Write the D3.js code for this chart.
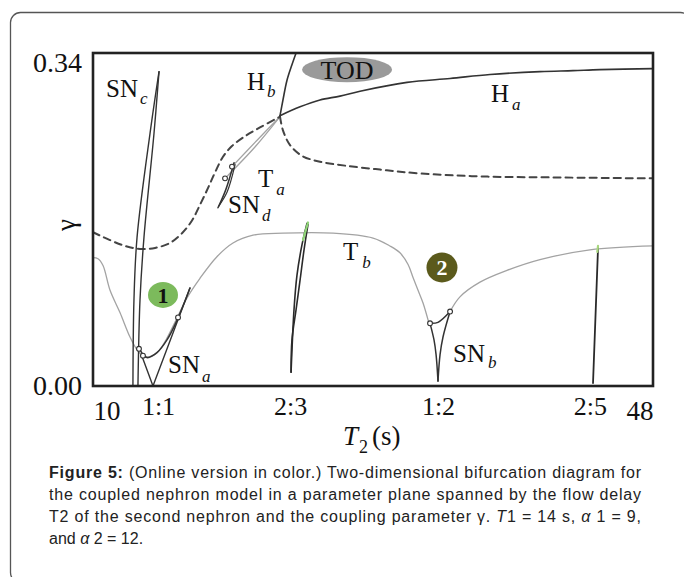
<!DOCTYPE html>
<html><head><meta charset="utf-8">
<script src="https://cdn.jsdelivr.net/npm/d3@7"></script>
<style>
html,body{margin:0;padding:0;background:#fff;}
svg{display:block;}
</style></head>
<body>
<script>
// ---- data (T2 in s, gamma) ----
const xTickValues = [14.41, 23.37, 33.41, 43.72];
const xTickLabels = ["1:1", "2:3", "1:2", "2:5"];
const xEndValues = [10, 48];
const yTickValues = [0, 0.34];

const hopfA = [[22.69,0.276],[24.05,0.285],[25.40,0.292],[26.76,0.296],[28.12,0.301],[31.31,0.310],[34.23,0.314],[36.94,0.318],[40.33,0.321],[42.57,0.322],[44.40,0.323],[48.00,0.324]];
const hopfB = [[22.69,0.276],[22.89,0.292],[23.16,0.312],[23.50,0.328],[23.78,0.340]];
const hopfDashRight = [[22.69,0.275],[22.89,0.261],[23.37,0.246],[24.18,0.235],[25.40,0.229],[27.10,0.225],[29.48,0.221],[32.19,0.217],[36.26,0.214],[41.01,0.213],[48.00,0.212]];
const hopfDashLeft = [[10.00,0.157],[11.15,0.149],[12.17,0.143],[13.19,0.140],[14.21,0.141],[15.22,0.146],[16.04,0.156],[16.72,0.169],[17.26,0.185],[17.80,0.202],[18.28,0.218],[18.82,0.234],[19.43,0.245],[20.31,0.255],[21.33,0.264],[22.69,0.275]];
const torusA1 = [[22.69,0.275],[21.20,0.252],[19.43,0.224]];
const torusA2 = [[22.69,0.275],[20.99,0.244],[18.96,0.212]];
const snD1 = [[19.57,0.228],[19.00,0.200],[18.48,0.182]];
const snD2 = [[19.64,0.226],[19.10,0.198],[18.55,0.184]];
const snC1 = [[14.48,0.321],[13.87,0.258],[12.99,0.152],[12.78,0.088],[12.71,0.000]];
const snC2 = [[14.48,0.321],[14.14,0.258],[13.46,0.152],[13.19,0.088],[13.05,0.000]];
const torusBLeft = [[10.00,0.131],[10.34,0.130],[10.68,0.123],[11.15,0.098],[11.83,0.075],[12.51,0.050],[12.99,0.037],[13.39,0.031],[13.87,0.030],[14.41,0.035],[14.95,0.047],[15.56,0.065],[16.38,0.090],[17.26,0.110],[18.41,0.132],[19.50,0.146],[20.86,0.154],[22.89,0.156],[26.29,0.156],[29.00,0.151],[30.15,0.143],[30.83,0.136],[31.38,0.124],[31.71,0.111],[32.05,0.098],[32.39,0.085],[32.80,0.064]];
const torusBRight = [[34.23,0.076],[34.90,0.091],[36.26,0.106],[38.09,0.118],[40.33,0.129],[43.72,0.139],[48.00,0.143]];
const snA1 = [[13.19,0.037],[13.66,0.029],[14.34,0.034],[15.02,0.047],[15.70,0.067],[16.58,0.100]];
const snA2 = [[13.33,0.030],[14.07,0.000],[16.58,0.100]];
const snB1 = [[32.87,0.064],[33.41,0.065],[34.23,0.076]];
const snB2 = [[32.87,0.064],[33.14,0.047],[33.28,0.032],[33.41,0.005]];
const snB3 = [[34.23,0.076],[33.75,0.050],[33.55,0.032],[33.41,0.005]];
const res23a = [[24.52,0.166],[24.18,0.144],[23.84,0.113],[23.64,0.078],[23.44,0.014]];
const res23b = [[24.59,0.165],[24.32,0.139],[24.05,0.108],[23.78,0.078],[23.50,0.047],[23.44,0.014]];
const res23tip = [[24.59,0.167],[24.25,0.149]];
const res25 = [[44.27,0.141],[43.93,0.003]];
const res25tip = [[44.27,0.143],[44.22,0.137]];
const markers = [[19.43,0.224],[18.96,0.212],[13.12,0.038],[13.39,0.031],[15.77,0.070],[32.87,0.064],[34.23,0.076]];
const todCenter = [27.24, 0.323];
const region1 = [14.75, 0.093];
const region2 = [33.68, 0.121];

const captionLines = [
  {bold:"Figure 5:", text:" (Online version in color.) Two-dimensional bifurcation diagram for", justify:true},
  {text:"the coupled nephron model in a parameter plane spanned by the flow delay", justify:true},
  {text:"T2 of the second nephron and the coupling parameter \u03b3. ", ital:"T", rest:"1 = 14 s, ", al:"\u03b1", rest2:" 1 = 9,", justify:true},
  {text:"and ", al:"\u03b1", rest2:" 2 = 12.", justify:false}
];

// ---- drawing ----
const W = 684, H = 577;
const svg = d3.select("body").append("svg").attr("width", W).attr("height", H);

svg.append("rect").attr("x",10.5).attr("y",12.5).attr("width",680).attr("height",570)
  .attr("rx",10).attr("fill","none").attr("stroke","#555").attr("stroke-width",1.3);

const L = 93, R = 653, T = 53, B = 386;
const x = d3.scaleLinear().domain([10,48]).range([L,R]);
const y = d3.scaleLinear().domain([0,0.34]).range([B,T]);

const line = d3.line().x(d=>x(d[0])).y(d=>y(d[1])).curve(d3.curveCatmullRom.alpha(0.5));
const lineS = d3.line().x(d=>x(d[0])).y(d=>y(d[1]));

const g = svg.append("g");
function path(data, color, w, dash, gen){
  g.append("path").attr("d",(gen||line)(data)).attr("fill","none")
   .attr("stroke",color).attr("stroke-width",w).attr("stroke-dasharray",dash||null)
   .attr("stroke-linejoin","round").attr("stroke-linecap","round");
}

// TOD ellipse
g.append("ellipse").attr("cx",x(todCenter[0])).attr("cy",y(todCenter[1]))
  .attr("rx",45).attr("ry",12.5).attr("fill","#9a9a9a");
g.append("text").attr("x",x(todCenter[0])).attr("y",y(todCenter[1])+9)
  .attr("text-anchor","middle").attr("font-family","Liberation Serif").attr("font-size",26)
  .attr("fill","#111").text("TOD");

// gray torus curves
path(torusBLeft, "#a3a3a3", 1.3);
path(torusBRight, "#a3a3a3", 1.3);
path(torusA1, "#a3a3a3", 1.3);
path(torusA2, "#a3a3a3", 1.3);

// dashed Hopf
path(hopfDashLeft, "#444", 2, "7,5");
path(hopfDashRight, "#444", 2, "7,5");

// solid Hopf
path(hopfA, "#333", 1.6);
path(hopfB, "#333", 1.6);

// saddle-node curves
path(snC1, "#333", 1.4);
path(snC2, "#333", 1.4);
path(snD1, "#333", 1.5);
path(snD2, "#333", 1.2);
path(snA1, "#333", 1.5);
path(snA2, "#333", 1.4, null, lineS);
path(snB1, "#333", 1.5);
path(snB2, "#333", 1.5);
path(snB3, "#333", 1.5);
path(res23a, "#2a2a2a", 1.6);
path(res23b, "#2a2a2a", 1.6);
path(res23tip, "#8fd477", 2.2, null, lineS);
path(res25, "#2a2a2a", 1.8, null, lineS);
path(res25tip, "#a8d77f", 2.2, null, lineS);

g.selectAll("circle.m").data(markers).join("circle").attr("class","m")
  .attr("cx",d=>x(d[0])).attr("cy",d=>y(d[1])).attr("r",2.4)
  .attr("fill","#fff").attr("stroke","#333").attr("stroke-width",1.1);

// region markers
g.append("ellipse").attr("cx",x(region1[0])).attr("cy",y(region1[1])).attr("rx",15).attr("ry",13).attr("fill","#7cba5c");
g.append("text").attr("x",x(region1[0])).attr("y",y(region1[1])+8).attr("text-anchor","middle")
  .attr("font-family","Liberation Serif").attr("font-weight","bold").attr("font-size",22).attr("fill","#111").text("1");
g.append("ellipse").attr("cx",x(region2[0])).attr("cy",y(region2[1])).attr("rx",15.5).attr("ry",15).attr("fill","#5b5a1c");
g.append("text").attr("x",x(region2[0])).attr("y",y(region2[1])+8).attr("text-anchor","middle")
  .attr("font-family","Liberation Serif").attr("font-weight","bold").attr("font-size",22).attr("fill","#fff").text("2");

// curve labels
const labels = [
  {m:"SN", s:"c", x:106, y:97, sdx:2, sdy:7},
  {m:"H", s:"b", x:247, y:90, sdx:2, sdy:7},
  {m:"H", s:"a", x:491, y:102, sdx:3, sdy:8},
  {m:"T", s:"a", x:258, y:187, sdx:3, sdy:8},
  {m:"SN", s:"d", x:228, y:213, sdx:2, sdy:8},
  {m:"T", s:"b", x:343, y:260, sdx:4, sdy:8},
  {m:"SN", s:"a", x:168, y:373, sdx:2, sdy:9},
  {m:"SN", s:"b", x:453, y:362, sdx:3, sdy:6}
];
labels.forEach(l=>{
  const t = g.append("text").attr("x",l.x).attr("y",l.y).attr("font-family","Liberation Serif")
    .attr("font-size",25).attr("fill","#111");
  t.append("tspan").text(l.m);
  t.append("tspan").attr("dx",l.sdx).attr("dy",l.sdy).attr("font-size",17).attr("font-style","italic").text(l.s);
});

// plot frame
svg.append("rect").attr("x",L).attr("y",T).attr("width",R-L).attr("height",B-T)
  .attr("fill","none").attr("stroke","#222").attr("stroke-width",2.6);

// axes
const xAxis = d3.axisBottom(x).tickValues(xTickValues).tickSize(0)
  .tickFormat((d,i)=>xTickLabels[i]);
const gx = svg.append("g").attr("transform",`translate(0,${B})`).call(xAxis);
gx.select(".domain").remove();
gx.selectAll("text").attr("font-family","Liberation Serif").attr("font-size",26)
  .attr("fill","#111").attr("dy",null).attr("y",29);

const xEnd = d3.axisBottom(x).tickValues(xEndValues).tickSize(0).tickFormat(d3.format("d"));
const gx2 = svg.append("g").attr("transform",`translate(0,${B})`).call(xEnd);
gx2.select(".domain").remove();
gx2.selectAll("text").attr("font-family","Liberation Serif").attr("font-size",27)
  .attr("fill","#111").attr("dy",null).attr("y",34)
  .attr("text-anchor",(d,i)=>i===0?"start":"end");

const yAxis = d3.axisLeft(y).tickValues(yTickValues).tickSize(0).tickFormat(d3.format(".2f"));
const gy = svg.append("g").attr("transform",`translate(${L},0)`).call(yAxis);
gy.select(".domain").remove();
gy.selectAll("text").attr("font-family","Liberation Serif").attr("font-size",28)
  .attr("fill","#111").attr("x",-11).attr("dy",(d)=>d===0?"0.32em":"0.65em");

// axis titles
const xt = svg.append("text").attr("x",343).attr("y",445).attr("font-family","Liberation Serif")
  .attr("font-size",27).attr("fill","#111");
xt.append("tspan").attr("font-style","italic").text("T");
xt.append("tspan").attr("dy",8).attr("dx",1).attr("font-size",18).text("2");
xt.append("tspan").attr("dy",-8).attr("dx",4).text("(s)");

svg.append("text").attr("transform","translate(75,225) rotate(-90)").attr("text-anchor","middle")
  .attr("font-family","Liberation Serif").attr("font-size",27).attr("fill","#111").text("\u03b3");

// caption
const capY = [478, 500, 522, 544];
captionLines.forEach((c,i)=>{
  const t = svg.append("text").attr("x",49).attr("y",capY[i]).attr("font-family","Liberation Sans")
    .attr("font-size",16).attr("fill","#222");
  if(c.justify){ t.attr("textLength",592).attr("lengthAdjust","spacing"); }
  if(c.bold) t.append("tspan").attr("font-weight","bold").text(c.bold);
  t.append("tspan").text(c.text);
  if(c.ital) t.append("tspan").attr("font-style","italic").text(c.ital);
  if(c.rest) t.append("tspan").text(c.rest);
  if(c.al) t.append("tspan").attr("font-style","italic").text(c.al);
  if(c.rest2) t.append("tspan").text(c.rest2);
});
</script>
</body></html>
